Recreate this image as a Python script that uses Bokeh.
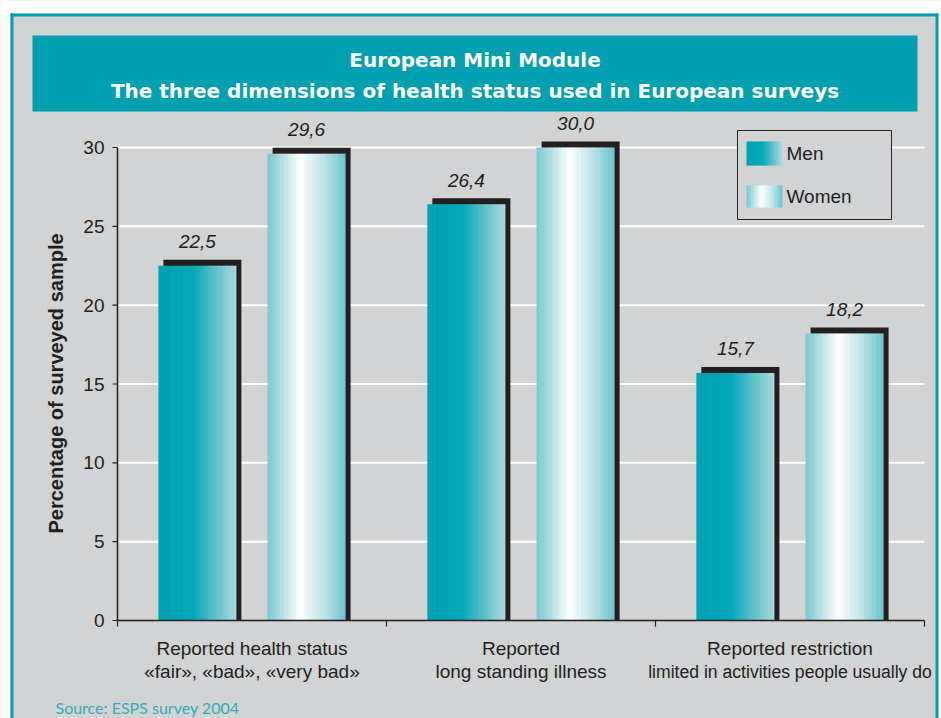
import math
from bokeh.plotting import figure
from bokeh.models import Range1d, ColumnDataSource
from bokeh.embed import file_html
from bokeh.resources import INLINE
from bokeh.core.properties import value

# ---------------- data ----------------
category_line1 = ["Reported health status", "Reported", "Reported restriction"]
category_line2 = ["«fair», «bad», «very bad»", "long standing illness",
                  "limited in activities people usually do"]
series_names = ["Men", "Women"]
men = [22.5, 26.4, 15.7]
women = [29.6, 30.0, 18.2]
y_ticks = [0, 5, 10, 15, 20, 25, 30]
y_tick_labels = ["0", "5", "10", "15", "20", "25", "30"]
title_lines = ["European Mini Module",
               "The three dimensions of health status used in European surveys"]
y_label = "Percentage of surveyed sample"
source_text = "Source: ESPS survey 2004"

# ---------------- layout helpers (pixel <-> data) ----------------
W, H = 941, 718
LEFT_PX, RIGHT_PX, BOTTOM_PX = 117, 924, 620
N_CAT = len(category_line1)
PX_X = (RIGHT_PX - LEFT_PX) / N_CAT
PX_Y = (BOTTOM_PX - 147) / 30.0


def dx(px):
    return (px - LEFT_PX) / PX_X


def dy(py):
    return (BOTTOM_PX - py) / PX_Y


GRAY = "#d1d3d4"
TEAL = "#00a0b0"
DARK = "#231f20"
FONT = "Liberation Sans"

men_stops = [(0.0, "#00a2b2"), (0.45, "#03aab9"), (0.72, "#5cbfc9"), (1.0, "#addbe0")]
women_stops = [(0.0, "#78c8d1"), (0.42, "#ffffff"), (0.75, "#b5e1e6"), (1.0, "#6cc3cd")]


def hex2rgb(h):
    return tuple(int(h[i:i + 2], 16) for i in (1, 3, 5))


def interp(stops, t):
    for (t0, c0), (t1, c1) in zip(stops, stops[1:]):
        if t0 <= t <= t1:
            f = (t - t0) / (t1 - t0) if t1 > t0 else 0.0
            a, b = hex2rgb(c0), hex2rgb(c1)
            return "#%02x%02x%02x" % tuple(round(a[k] + (b[k] - a[k]) * f) for k in range(3))
    return stops[-1][1]


def strips(L, R, bottom, top, stops, n=48):
    w = (R - L) / n
    out = dict(left=[], right=[], bottom=[], top=[], color=[])
    for k in range(n):
        out["left"].append(L + k * w)
        out["right"].append(min(R, L + (k + 1) * w + 0.4 * w))
        out["bottom"].append(bottom)
        out["top"].append(top)
        out["color"].append(interp(stops, (k + 0.5) / n))
    return out


def merge(a, b):
    for k in a:
        a[k] += b[k]
    return a


# ---------------- figure: frame spans the whole canvas ----------------
p = figure(width=W, height=H,
           x_range=Range1d(dx(0), dx(W)), y_range=Range1d(dy(H), dy(0)),
           x_axis_location=None, y_axis_location=None,
           min_border=0, min_border_left=0, min_border_right=0,
           min_border_top=0, min_border_bottom=0,
           output_backend="svg", toolbar_location=None, title=None,
           background_fill_color=GRAY, border_fill_color=GRAY,
           outline_line_color=None)
p.xgrid.visible = False
p.ygrid.visible = False

# outer page decoration (white margin, teal frame) and title box
deco = dict(left=[], right=[], top=[], bottom=[], color=[])
for (l, r, t, b, col) in [
    (-20, 10, -20, 740, "white"),
    (-20, 960, -20, 13, "white"),
    (938, 960, -20, 740, "white"),
    (10, 13, 13, 740, TEAL),
    (10, 938, 13, 16, TEAL),
    (935, 938, 13, 740, TEAL),
    (32, 917, 35, 111, TEAL),
]:
    deco["left"].append(dx(l))
    deco["right"].append(dx(r))
    deco["top"].append(dy(t))
    deco["bottom"].append(dy(b))
    deco["color"].append(col)
p.quad(left="left", right="right", top="top", bottom="bottom",
       source=ColumnDataSource(deco), fill_color="color", line_color=None)

p.text(x=[dx(474.5)] * 2, y=[dy(59), dy(90)], text=title_lines,
       text_font=value("DejaVu Sans"), text_font_style="bold",
       text_font_size="20px", text_color="white",
       text_align="center", text_baseline="middle")

# grid lines
grid_vals = y_ticks[1:]
p.segment(x0=[0] * len(grid_vals), x1=[N_CAT] * len(grid_vals),
          y0=grid_vals, y1=grid_vals, line_color="white", line_width=2)

# ---------------- bars ----------------
BAR_W = 0.29
OFFS = [-0.203, 0.203]
SH_X = 5 / PX_X
SH_Y = 6 / PX_Y

shadow = dict(left=[], right=[], bottom=[], top=[])
bars = dict(left=[], right=[], bottom=[], top=[], color=[])
labels = dict(x=[], y=[], text=[])
for s, (vals, stops) in enumerate([(men, men_stops), (women, women_stops)]):
    for i, v in enumerate(vals):
        c = i + 0.5 + OFFS[s]
        L, R = c - BAR_W / 2, c + BAR_W / 2
        shadow["left"].append(L + SH_X)
        shadow["right"].append(R + SH_X)
        shadow["bottom"].append(0)
        shadow["top"].append(v + SH_Y)
        merge(bars, strips(L, R, 0, v, stops))
        labels["x"].append(c)
        labels["y"].append(v)
        labels["text"].append(f"{v:.1f}".replace(".", ","))

p.quad(left="left", right="right", bottom="bottom", top="top",
       source=ColumnDataSource(shadow), fill_color=DARK, line_color=None)
p.quad(left="left", right="right", bottom="bottom", top="top",
       source=ColumnDataSource(bars), fill_color="color", line_color=None)
p.text(x="x", y="y", text="text", source=ColumnDataSource(labels),
       text_font=value(FONT), text_font_style="italic",
       text_font_size="19px", text_color=DARK, text_align="center",
       text_baseline="middle", y_offset=-24)

# ---------------- axes ----------------
p.segment(x0=[0], x1=[0], y0=[y_ticks[0]], y1=[y_ticks[-1]], line_color=DARK, line_width=1.5)
p.segment(x0=[dx(LEFT_PX - 5)] * len(y_ticks), x1=[0] * len(y_ticks),
          y0=y_ticks, y1=y_ticks, line_color=DARK, line_width=1.2)
p.text(x=[0] * len(y_ticks), y=y_ticks, text=y_tick_labels, x_offset=-13,
       text_font=value(FONT), text_font_size="19px", text_color=DARK,
       text_align="right", text_baseline="middle")
p.text(x=[dx(55)], y=[dy(383)], text=[y_label], angle=math.pi / 2,
       text_font=value(FONT), text_font_style="bold", text_font_size="20px",
       text_color=DARK, text_align="center", text_baseline="middle")

bounds = list(range(N_CAT + 1))
p.segment(x0=[0], x1=[N_CAT], y0=[0], y1=[0], line_color=DARK, line_width=1.5)
p.segment(x0=bounds, x1=bounds, y0=[0] * len(bounds), y1=[dy(BOTTOM_PX + 6)] * len(bounds),
          line_color=DARK, line_width=1.2)
centers = [i + 0.5 for i in range(N_CAT)]
p.text(x=centers, y=[0] * N_CAT, text=category_line1, y_offset=28,
       text_font=value(FONT), text_font_size="19px", text_color=DARK,
       text_align="center", text_baseline="middle")
line2_src = ColumnDataSource(dict(x=centers, y=[0] * N_CAT, text=category_line2,
                                  size=["19px", "19px", "17.6px"]))
p.text(x="x", y="y", text="text", source=line2_src, y_offset=51,
       text_font=value(FONT), text_font_size="size", text_color=DARK,
       text_align="center", text_baseline="middle")

# ---------------- legend ----------------
p.quad(left=[dx(737)], right=[dx(891)], top=[dy(130)], bottom=[dy(219)],
       fill_color=GRAY, line_color=DARK, line_width=1)
leg = dict(left=[], right=[], bottom=[], top=[], color=[])
for stops, (t, b) in zip([men_stops, women_stops], [(141, 165), (185, 207)]):
    merge(leg, strips(dx(746), dx(782), dy(b), dy(t), stops, n=24))
p.quad(left="left", right="right", bottom="bottom", top="top",
       source=ColumnDataSource(leg), fill_color="color", line_color=None)
p.text(x=[dx(786), dx(786)], y=[dy(153), dy(196)], text=series_names,
       text_font=value(FONT), text_font_size="19px",
       text_color=DARK, text_align="left", text_baseline="middle")

# ---------------- source ----------------
p.text(x=[dx(55)], y=[dy(707)], text=[source_text],
       text_font=value("Lato"), text_font_size="16px", text_color="#33abb8",
       text_align="left", text_baseline="middle")

open("out.html", "w").write(file_html(p, INLINE))
